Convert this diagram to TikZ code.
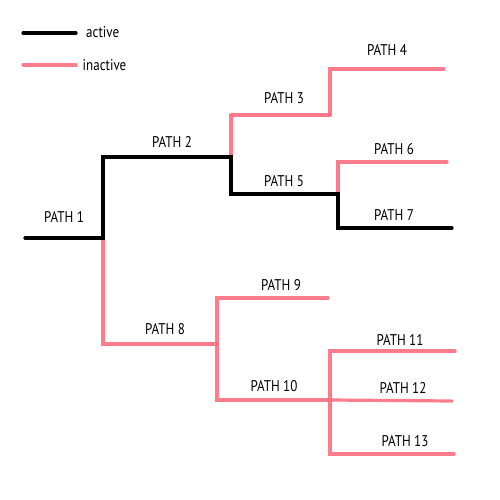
\documentclass[tikz,border=0pt]{standalone}
\usepackage{fontspec}
\usepackage{graphicx}
\setmainfont{PT Sans}
\definecolor{inact}{RGB}{255,110,128}
\newcommand{\cond}[1]{\scalebox{0.84}[1]{#1}}
\begin{document}
\begin{tikzpicture}[x=1pt,y=-1pt,
  act/.style={line width=3.2pt,black,line cap=round},
  ina/.style={line width=3.2pt,inact,opacity=0.9,line cap=round},
  lbl/.style={font=\fontsize{15.5}{16}\selectfont,inner sep=0pt}]
\useasboundingbox (0,0) rectangle (500,500);
% legend
\coordinate (la1) at (23,33); \coordinate (la2) at (76,33);
\coordinate (li1) at (23,65); \coordinate (li2) at (76,65);
\draw[act] (la1) -- (la2);
\draw[ina] (li1) -- (li2);
\node[lbl,anchor=west] (lact) at (86,32) {\cond{active}};
\node[lbl,anchor=west] (linact) at (82.5,65) {\cond{inactive}};
% junctions
\coordinate (s) at (25,238);
\coordinate (j1) at (103,238);
\coordinate (j2a) at (103,157); \coordinate (j2) at (231,157);
\coordinate (j3a) at (231,115); \coordinate (j3) at (330,115);
\coordinate (j4a) at (330,69);  \coordinate (e4) at (444,69);
\coordinate (j5a) at (231,194); \coordinate (j5) at (338,194);
\coordinate (j6a) at (338,162); \coordinate (e6) at (447,162);
\coordinate (j7a) at (338,228); \coordinate (e7) at (452,228);
\coordinate (j8a) at (103,344); \coordinate (j8) at (217,344);
\coordinate (j9a) at (217,298); \coordinate (e9) at (328,298);
\coordinate (j10a) at (217,400); \coordinate (j10) at (330,400);
\coordinate (j11a) at (330,351); \coordinate (e11) at (455,351);
\coordinate (e12) at (452,401);
\coordinate (j13a) at (330,454); \coordinate (e13) at (454,454);
% inactive
\draw[ina] (j3a) -- (j3);
\draw[ina] (j2) -- (j3a);
\draw[ina] (j3) -- (j4a) -- (e4);
\draw[ina] (j5) -- (j6a) -- (e6);
\draw[ina] (j1) -- (j8a) -- (j8);
\draw[ina] (j8) -- (j9a) -- (e9);
\draw[ina] (j8) -- (j10a) -- (j10);
\draw[ina] (j10) -- (j11a) -- (e11);
\draw[ina] (j10) -- (e12);
\draw[ina] (j10) -- (j13a) -- (e13);
% active
\draw[act,line join=miter] (s) -- (j1) -- (j2a) -- (j2) -- (j5a) -- (j5) -- (j7a) -- (e7);
% labels
\node[lbl] (p1) at (64,217) {\cond{PATH 1}};
\node[lbl] (p2) at (172,142) {\cond{PATH 2}};
\node[lbl] (p3) at (284,98) {\cond{PATH 3}};
\node[lbl] (p4) at (387,50) {\cond{PATH 4}};
\node[lbl] (p5) at (284,181) {\cond{PATH 5}};
\node[lbl] (p6) at (394,149) {\cond{PATH 6}};
\node[lbl] (p7) at (394,215) {\cond{PATH 7}};
\node[lbl] (p8) at (165,329) {\cond{PATH 8}};
\node[lbl] (p9) at (281,285) {\cond{PATH 9}};
\node[lbl] (p10) at (274,386) {\cond{PATH 10}};
\node[lbl] (p11) at (400,340) {\cond{PATH 11}};
\node[lbl] (p12) at (403,388) {\cond{PATH 12}};
\node[lbl] (p13) at (405,441) {\cond{PATH 13}};
\end{tikzpicture}
\end{document}
